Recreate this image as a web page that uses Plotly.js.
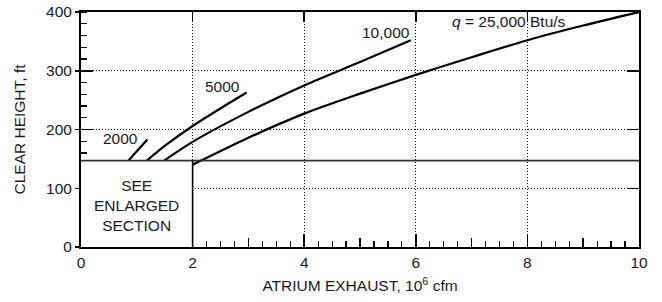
<!DOCTYPE html>
<html>
<head>
<meta charset="utf-8">
<script src="https://cdn.plot.ly/plotly-3.0.1.min.js"></script>
<style>html,body{margin:0;padding:0;background:#fff;}#chart{width:662px;height:302px;}</style>
</head>
<body>
<div id="chart"></div>
<script>
// Curves: atrium exhaust (10^6 cfm) vs clear height (ft)
const q2000_x = [0.85, 1.02, 1.19];
const q2000_y = [147, 165, 183];
const q5000_x = [1.18, 1.5, 2.0, 2.5, 2.97];
const q5000_y = [147, 172, 206, 236, 263];
const q10000_x = [1.49, 2.0, 3.0, 4.0, 5.0, 5.91];
const q10000_y = [147, 179, 230, 275, 315, 352];
const q25000_x = [2.0, 3.0, 4.0, 5.0, 6.0, 7.0, 8.0, 9.0, 10.0];
const q25000_y = [140, 186, 227, 261, 293, 323, 352, 377, 400];

const curveLabels = ["2000", "5000", "10,000", "<i>q</i> = 25,000 Btu/s"];
const labelX = [0.70, 2.54, 5.46, 7.67];
const labelY = [184, 274, 365, 384];

const enlargedX = 2;       // extent of "see enlarged section" box
const enlargedY = 147;
const xTicks = [0, 2, 4, 6, 8, 10];
const yTicks = [0, 100, 200, 300, 400];
const xOddTicks = [1, 3, 5, 7, 9];

const FONT = 'Arial, "Liberation Sans", sans-serif';
const FS = 15.5;
const TXT = '#1a1a1a';
const curveLine = {color: '#000', width: 2.2, shape: 'spline', smoothing: 0.8};

const traces = [
  {x: q2000_x, y: q2000_y, mode: 'lines', line: curveLine, hoverinfo: 'skip'},
  {x: q5000_x, y: q5000_y, mode: 'lines', line: curveLine, hoverinfo: 'skip'},
  {x: q10000_x, y: q10000_y, mode: 'lines', line: curveLine, hoverinfo: 'skip'},
  {x: q25000_x, y: q25000_y, mode: 'lines', line: curveLine, hoverinfo: 'skip'},
  // carriers for extra tick axes
  {x: [null], y: [null], xaxis: 'x2', yaxis: 'y', hoverinfo: 'skip'},
  {x: [null], y: [null], xaxis: 'x3', yaxis: 'y', hoverinfo: 'skip'},
  {x: [null], y: [null], xaxis: 'x', yaxis: 'y2', hoverinfo: 'skip'},
  {x: [null], y: [null], xaxis: 'x', yaxis: 'y3', hoverinfo: 'skip'}
];

const overlayX = {overlaying: 'x', range: [0, 10], showgrid: false, zeroline: false, showline: false,
  showticklabels: false, ticks: 'inside', tickcolor: '#000', tickwidth: 1.5};
const overlayY = {overlaying: 'y', range: [0, 400], showgrid: false, zeroline: false, showline: false,
  showticklabels: false, ticks: 'inside', tickcolor: '#000', tickwidth: 1.5};

const layout = {
  width: 662, height: 302,
  margin: {l: 81, r: 23, t: 12, b: 55},
  paper_bgcolor: '#fff', plot_bgcolor: '#fff',
  showlegend: false,
  font: {family: FONT, size: FS, color: TXT},
  xaxis: {
    range: [0, 10], tickvals: xTicks, ticktext: xTicks.map(String),
    showline: true, linecolor: '#000', linewidth: 2, mirror: true,
    ticks: 'inside', ticklen: 13, tickwidth: 1.5, tickcolor: '#000',
    minor: {dtick: 0.25, ticks: 'inside', ticklen: 6, tickwidth: 1.2, tickcolor: '#000', showgrid: false},
    showgrid: true, gridcolor: '#000', gridwidth: 1, griddash: '1px,2px',
    zeroline: false, tickfont: {size: FS, color: TXT},
    title: {text: 'ATRIUM EXHAUST, 10<sup>6</sup> cfm', font: {size: FS, color: TXT}, standoff: 11}
  },
  xaxis2: Object.assign({}, overlayX, {side: 'bottom', tickvals: xOddTicks, ticklen: 9}),
  xaxis3: Object.assign({}, overlayX, {side: 'top', tickvals: xTicks, ticklen: 10}),
  yaxis: {
    range: [0, 400], tickvals: yTicks, ticktext: yTicks.map(String),
    showline: true, linecolor: '#000', linewidth: 2, mirror: true,
    ticks: 'outside', ticklen: 4, tickwidth: 1.5, tickcolor: '#000',
    minor: {dtick: 20, ticks: 'inside', ticklen: 6, tickwidth: 1.2, tickcolor: '#000', showgrid: false},
    showgrid: true, gridcolor: '#000', gridwidth: 1, griddash: '1px,2px',
    zeroline: false, tickfont: {size: FS, color: TXT},
    title: {text: 'CLEAR HEIGHT, ft', font: {size: FS, color: TXT}, standoff: 17}
  },
  yaxis2: Object.assign({}, overlayY, {side: 'left', tickvals: yTicks, ticklen: 12}),
  yaxis3: Object.assign({}, overlayY, {side: 'right', tickvals: yTicks, ticklen: 12}),
  shapes: [
    {type: 'rect', xref: 'x', yref: 'y', x0: 0, x1: enlargedX, y0: 0, y1: enlargedY,
     fillcolor: '#fff', line: {width: 0}, layer: 'above'},
    {type: 'line', xref: 'x', yref: 'y', x0: 0, x1: 10, y0: enlargedY, y1: enlargedY,
     line: {color: '#333', width: 1.6}, layer: 'above'},
    {type: 'line', xref: 'x', yref: 'y', x0: enlargedX, x1: enlargedX, y0: 0, y1: enlargedY,
     line: {color: '#000', width: 1.6}, layer: 'above'}
  ],
  annotations: curveLabels.map((t, i) => ({
    x: labelX[i], y: labelY[i], xref: 'x', yref: 'y', text: t, showarrow: false,
    font: {size: FS, family: FONT, color: TXT}, xanchor: 'center', yanchor: 'middle'
  })).concat([{
    x: enlargedX / 2, y: 71, xref: 'x', yref: 'y',
    text: 'SEE<br>ENLARGED<br>SECTION', showarrow: false,
    font: {size: 15.5, family: FONT, color: TXT}, align: 'center', xanchor: 'center', yanchor: 'middle'
  }])
};

Plotly.newPlot('chart', traces, layout, {staticPlot: true, displayModeBar: false});
</script>
</body>
</html>
